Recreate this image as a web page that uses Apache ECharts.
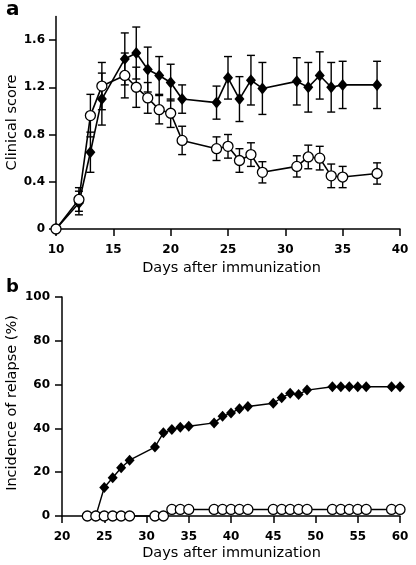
<!DOCTYPE html>
<html>
<head>
<meta charset="utf-8">
<script src="https://cdn.jsdelivr.net/npm/echarts@6/dist/echarts.min.js"></script>
<style>
html,body{margin:0;padding:0;background:#fff;}
#chart{width:416px;height:565px;}
</style>
</head>
<body>
<div id="chart"></div>
<script>
// ---- Panel a: clinical score ----
var daysA = [10,12,13,14,16,17,18,19,20,21,24,25,26,27,28,31,32,33,34,35,38];
var scoreDiamond = [0,0.22,0.65,1.10,1.44,1.49,1.35,1.30,1.24,1.10,1.07,1.28,1.10,1.26,1.19,1.25,1.20,1.30,1.20,1.22,1.22];
var errDiamond   = [0,0.10,0.17,0.22,0.22,0.22,0.19,0.16,0.155,0.12,0.14,0.18,0.19,0.21,0.22,0.20,0.21,0.20,0.21,0.20,0.20];
var scoreCircle  = [0,0.25,0.96,1.21,1.30,1.20,1.11,1.01,0.98,0.75,0.68,0.70,0.58,0.63,0.48,0.53,0.61,0.60,0.45,0.44,0.47];
var errCircle    = [0,0.10,0.18,0.20,0.19,0.17,0.13,0.12,0.12,0.12,0.10,0.10,0.10,0.10,0.09,0.09,0.10,0.10,0.10,0.09,0.09];
var ticksAx = [10,15,20,25,30,35,40];
var ticksAy = [0,0.4,0.8,1.2,1.6];

// ---- Panel b: incidence of relapse ----
var daysBDiamond = [24,25,26,27,28,31,32,33,34,35,38,39,40,41,42,45,46,47,48,49,52,53,54,55,56,59,60];
var relapseDiamond = [0,13,17.5,22,25.5,31.5,38,39.5,40.5,41,42.5,45.5,47,49,50,51.5,54,56,55.5,57.5,59,59,59,59,59,59,59];
var daysBCircle = [23,24,25,26,27,28,31,32,33,34,35,38,39,40,41,42,45,46,47,48,49,52,53,54,55,56,59,60];
var relapseCircle = [0,0,0,0,0,0,0,0,3,3,3,3,3,3,3,3,3,3,3,3,3,3,3,3,3,3,3,3];
var ticksBx = [20,25,30,35,40,45,50,55,60];
var ticksBy = [0,20,40,60,80,100];

function pairs(xs, ys){ return xs.map(function(x,i){ return [x, ys[i]]; }); }
function errData(xs, ys, es){
  var out = [];
  xs.forEach(function(x,i){ if (es[i] > 0) out.push([x, ys[i]-es[i], ys[i]+es[i]]); });
  return out;
}
function errRender(params, api){
  var x = api.value(0), lo = api.value(1), hi = api.value(2);
  var pL = api.coord([x, lo]), pH = api.coord([x, hi]);
  var hw = 4, st = {stroke:'#000', lineWidth:1.4};
  return {type:'group', children:[
    {type:'line', shape:{x1:pL[0], y1:pL[1], x2:pH[0], y2:pH[1]}, style:st},
    {type:'line', shape:{x1:pL[0]-hw, y1:pL[1], x2:pL[0]+hw, y2:pL[1]}, style:st},
    {type:'line', shape:{x1:pH[0]-hw, y1:pH[1], x2:pH[0]+hw, y2:pH[1]}, style:st}
  ]};
}

var tickFont = {fontFamily:'DejaVu Sans', fontWeight:'bold', fontSize:12, color:'#000'};
var titleFont = 'DejaVu Sans';
var axLine = {show:true, onZero:false, lineStyle:{color:'#000', width:1.5}};

function xAxisDef(grid, min, max, ticks){
  return {
    gridIndex:grid, type:'value', min:min, max:max, interval:5,
    axisLine:axLine,
    axisTick:{show:true, length:7, lineStyle:{color:'#000', width:1.5}, customValues:ticks},
    axisLabel:Object.assign({margin:15, customValues:ticks}, tickFont),
    splitLine:{show:false}
  };
}
function yAxisDef(grid, min, max, ticks, margin, fmt){
  return {
    gridIndex:grid, type:'value', min:min, max:max,
    axisLine:axLine,
    axisTick:{show:true, length:7, lineStyle:{color:'#000', width:1.5}, customValues:ticks},
    axisLabel:Object.assign({margin:margin, customValues:ticks, formatter:fmt}, tickFont),
    splitLine:{show:false}
  };
}

var chart = echarts.init(document.getElementById('chart'), null, {renderer:'canvas'});
chart.setOption({
  backgroundColor:'#fff',
  animation:false,
  grid:[
    {left:56, top:16.4, width:344, height:212.6},
    {left:62, top:297, width:338, height:219}
  ],
  xAxis:[ xAxisDef(0, 10, 40, ticksAx), xAxisDef(1, 20, 60, ticksBx) ],
  yAxis:[
    yAxisDef(0, 0, 1.8, ticksAy, 11, function(v){ return v === 0 ? '0' : v.toFixed(1); }),
    yAxisDef(1, 0, 100, ticksBy, 12, function(v){ return String(v); })
  ],
  graphic:[
    {type:'text', x:6, y:9.5, style:{text:'a', font:'bold 20px "DejaVu Sans"', fill:'#000', textAlign:'left', textVerticalAlign:'middle'}},
    {type:'text', x:6, y:287, style:{text:'b', font:'bold 18px "DejaVu Sans"', fill:'#000', textAlign:'left', textVerticalAlign:'middle'}},
    {type:'text', x:231.5, y:268, style:{text:'Days after immunization', font:'14.5px "DejaVu Sans"', fill:'#000', textAlign:'center', textVerticalAlign:'middle'}},
    {type:'text', x:231.5, y:553.5, style:{text:'Days after immunization', font:'14.5px "DejaVu Sans"', fill:'#000', textAlign:'center', textVerticalAlign:'middle'}},
    {type:'text', x:12, y:122.5, rotation:Math.PI/2, style:{text:'Clinical score', font:'14.5px "DejaVu Sans"', fill:'#000', textAlign:'center', textVerticalAlign:'middle'}},
    {type:'text', x:12.3, y:403, rotation:Math.PI/2, style:{text:'Incidence of relapse (%)', font:'14.5px "DejaVu Sans"', fill:'#000', textAlign:'center', textVerticalAlign:'middle'}}
  ],
  series:[
    {type:'custom', xAxisIndex:0, yAxisIndex:0, z:1, renderItem:errRender, data:errData(daysA, scoreDiamond, errDiamond), clip:false},
    {type:'custom', xAxisIndex:0, yAxisIndex:0, z:1, renderItem:errRender, data:errData(daysA, scoreCircle, errCircle), clip:false},
    {type:'line', xAxisIndex:0, yAxisIndex:0, z:2, data:pairs(daysA, scoreDiamond), symbol:'diamond', symbolSize:[10,12], showAllSymbol:true, clip:false,
      lineStyle:{color:'#000', width:1.6}, itemStyle:{color:'#000', borderWidth:0}},
    {type:'line', xAxisIndex:0, yAxisIndex:0, z:3, data:pairs(daysA, scoreCircle), symbol:'circle', symbolSize:10, showAllSymbol:true, clip:false,
      lineStyle:{color:'#000', width:1.6}, itemStyle:{color:'#fff', borderColor:'#000', borderWidth:1.3}},
    {type:'line', xAxisIndex:1, yAxisIndex:1, z:2, data:pairs(daysBDiamond, relapseDiamond), symbol:'diamond', symbolSize:[10,11], showAllSymbol:true, clip:false,
      lineStyle:{color:'#000', width:1.4}, itemStyle:{color:'#000', borderWidth:0}},
    {type:'line', xAxisIndex:1, yAxisIndex:1, z:3, data:pairs(daysBCircle, relapseCircle), symbol:'circle', symbolSize:10, showAllSymbol:true, clip:false,
      lineStyle:{color:'#000', width:1.4}, itemStyle:{color:'#fff', borderColor:'#000', borderWidth:1.3}}
  ]
});
</script>
</body>
</html>
